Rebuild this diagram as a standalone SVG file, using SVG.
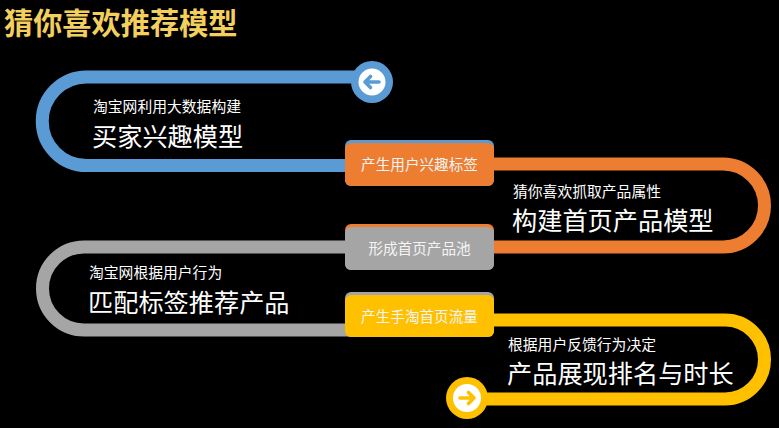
<svg xmlns="http://www.w3.org/2000/svg" width="779" height="428" viewBox="0 0 779 428">
<style>
.band{fill:none;stroke-width:13}
.t{font-family:"Noto Sans CJK SC","Liberation Sans",sans-serif;fill:#ffffff}
.s{font-size:14.8px}
.b{font-size:25.2px}
.bx{font-size:14.6px;text-anchor:middle;fill:#f4f4f4}
.arr{fill:none;stroke-width:3.6;stroke-linecap:round;stroke-linejoin:round}
</style>
<rect width="779" height="428" fill="#000000"/>
<text x="4" y="34" font-family="'Noto Sans CJK SC','Liberation Sans',sans-serif" font-size="29.2" font-weight="bold" fill="#f3cf5e">猜你喜欢推荐模型</text>
<g id="connectors">
<path class="band" stroke="#5b9bd5" d="M372 77 L86.5 77 A44.25 44.25 0 0 0 86.5 165.5 L420 165.5"/>
<path class="band" stroke="#ed7d31" d="M420 164 L723 164 A41.5 41.5 0 0 1 723 247 L420 247"/>
<path class="band" stroke="#a5a5a5" d="M420 247 L84 247 A41.5 41.5 0 0 0 84 330 L420 330"/>
<path class="band" stroke="#ffc000" d="M420 320 L725 320 A39.5 39.5 0 0 1 725 399 L467 399"/>
</g>
<g id="start">
<circle cx="372" cy="82" r="21" fill="#5b9bd5"/>
<circle cx="372" cy="82" r="13.5" fill="#ffffff"/>
<path class="arr" stroke="#5b9bd5" d="M379 82 H365 M370.5 76.5 L365 82 L370.5 87.5"/>
</g>
<g id="end">
<circle cx="467" cy="398" r="21" fill="#ffc000"/>
<circle cx="467" cy="398" r="14" fill="#ffffff"/>
<path class="arr" stroke="#ffc000" d="M460 398 H474 M468.5 392.5 L474 398 L468.5 403.5"/>
</g>
<g id="step1">
<text class="t s" x="93" y="112">淘宝网利用大数据构建</text>
<text class="t b" x="92" y="146">买家兴趣模型</text>
</g>
<g id="box1">
<rect x="345" y="140" width="149" height="46" rx="6" fill="#5b9bd5"/>
<rect x="345" y="143" width="149" height="43" rx="6" fill="#ed7d31"/>
<text class="t bx" x="419.5" y="170">产生用户兴趣标签</text>
</g>
<g id="step2">
<text class="t s" x="513" y="197">猜你喜欢抓取产品属性</text>
<text class="t b" x="512" y="230">构建首页产品模型</text>
</g>
<g id="box2">
<rect x="345" y="224" width="149" height="46" rx="6" fill="#ed7d31"/>
<rect x="345" y="227" width="149" height="43" rx="6" fill="#a5a5a5"/>
<text class="t bx" x="419.5" y="254">形成首页产品池</text>
</g>
<g id="step3">
<text class="t s" x="89" y="278">淘宝网根据用户行为</text>
<text class="t b" x="88" y="312">匹配标签推荐产品</text>
</g>
<g id="box3">
<rect x="345" y="292" width="149" height="45" rx="6" fill="#a5a5a5"/>
<rect x="345" y="295" width="149" height="42" rx="6" fill="#ffc000"/>
<text class="t bx" x="419.5" y="322">产生手淘首页流量</text>
</g>
<g id="step4">
<text class="t s" x="508" y="350">根据用户反馈行为决定</text>
<text class="t b" x="507" y="383">产品展现排名与时长</text>
</g>
</svg>
